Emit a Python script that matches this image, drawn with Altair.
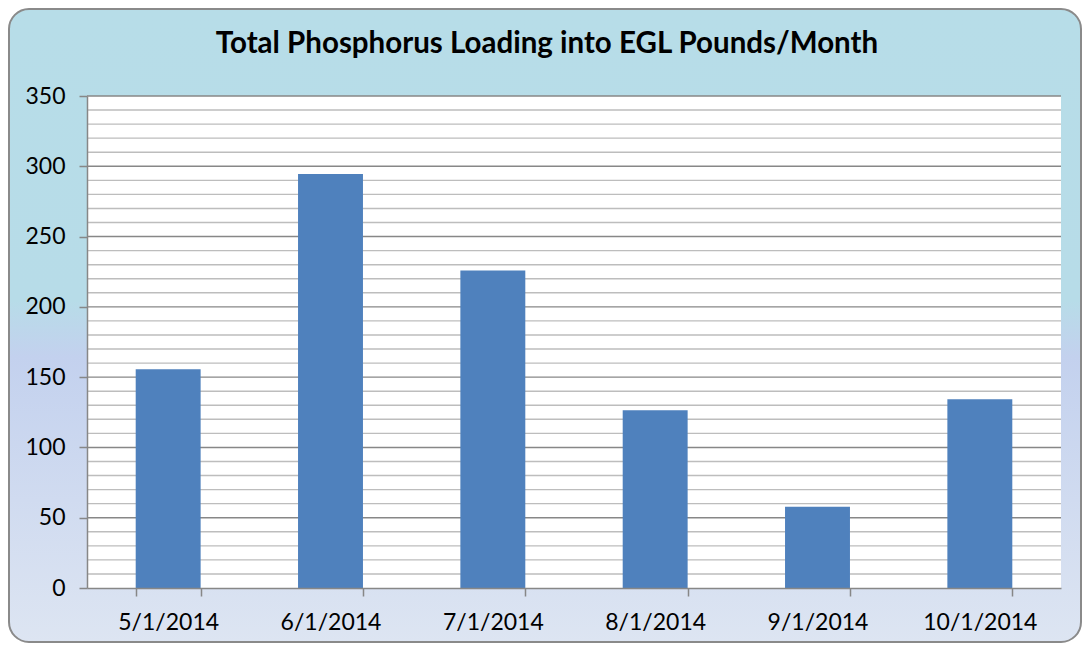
import altair as alt
import pandas as pd

# ---- data ----
dates = ["5/1/2014", "6/1/2014", "7/1/2014", "8/1/2014", "9/1/2014", "10/1/2014"]
loads = [155.6, 294.6, 225.9, 126.4, 57.8, 134.3]
y_ticks = [0, 50, 100, 150, 200, 250, 300, 350]
minor_grid = [10, 20, 30, 40, 60, 70, 80, 90, 110, 120, 130, 140, 160, 170, 180, 190,
              210, 220, 230, 240, 260, 270, 280, 290, 310, 320, 330, 340]
major_grid = [50, 100, 150, 200, 250, 300, 350]
title_text = "Total Phosphorus Loading into EGL Pounds/Month"

W, H = 974, 492
PAD = {"left": 79, "top": 88, "right": 21, "bottom": 55}
FONT = "Lato"

df = pd.DataFrame({"date": dates, "load": loads})
yscale = alt.Scale(domain=[0, 350], nice=False, zero=True)
y_axis = alt.Axis(
    values=y_ticks, labelFont=FONT, labelFontSize=23, labelColor="#000000",
    labelPadding=14, tickSize=8, tickColor="#878787", tickWidth=1.5,
    domainColor="#878787", domainWidth=1.5, grid=False, zindex=1, title=None,
)

grad = alt.Gradient(
    gradient="linear",
    stops=[
        alt.GradientStop(color="#B7DDE8", offset=0.0),
        alt.GradientStop(color="#B7DCE8", offset=0.46),
        alt.GradientStop(color="#C3D1EE", offset=0.55),
        alt.GradientStop(color="#DDE5F2", offset=1.0),
    ],
    x1=0, x2=0, y1=0, y2=1,
)

one = pd.DataFrame({"k": [0]})

background = alt.Chart(one).mark_rect(
    fill=grad, stroke="#8A8A8A", strokeWidth=2, cornerRadius=20
).encode(
    x=alt.value(-PAD["left"] + 1),
    x2=alt.value(W + PAD["right"] - 1),
    y=alt.value(-PAD["top"] + 1),
    y2=alt.value(H + PAD["bottom"] - 1),
)

title = alt.Chart(one).mark_text(
    text=title_text, font=FONT, fontSize=29.5, fontWeight="bold", color="#000000",
    align="center", baseline="alphabetic",
).encode(x=alt.value(W / 2 - 27), y=alt.value(-43))

plot_bg = alt.Chart(one).mark_rect(fill="white").encode(
    x=alt.value(0), x2=alt.value(W), y=alt.value(0), y2=alt.value(H)
)

minor = alt.Chart(pd.DataFrame({"v": minor_grid})).mark_rule(
    color="#BDBDBD", strokeWidth=1.4
).encode(
    y=alt.Y("v:Q", scale=yscale, axis=y_axis),
    x=alt.value(0), x2=alt.value(W),
)

major = alt.Chart(pd.DataFrame({"v": major_grid})).mark_rule(
    color="#878787", strokeWidth=1.4
).encode(
    y=alt.Y("v:Q", scale=yscale, axis=y_axis),
    x=alt.value(0), x2=alt.value(W),
)

bars = alt.Chart(df).mark_bar(color="#4F81BD").encode(
    x=alt.X(
        "date:N", sort=dates, title=None,
        scale=alt.Scale(paddingInner=0.6, paddingOuter=0.3),
        axis=alt.Axis(
            tickBand="extent", labelAngle=0, labelFont=FONT, labelFontSize=23,
            labelColor="#000000", labelPadding=15, tickSize=8, tickColor="#878787",
            tickWidth=1.5, domainColor="#878787", domainWidth=1.5, grid=False, zindex=1,
        ),
    ),
    y=alt.Y("load:Q", scale=yscale, title=None, axis=y_axis),
)

chart = alt.layer(background, title, plot_bg, minor, major, bars).properties(
    width=W, height=H,
    autosize=alt.AutoSizeParams(type="none"),
    padding=PAD,
    background="transparent",
).configure_view(stroke=None)

chart.save("out.html", embed_options={"renderer": "svg", "actions": False})
